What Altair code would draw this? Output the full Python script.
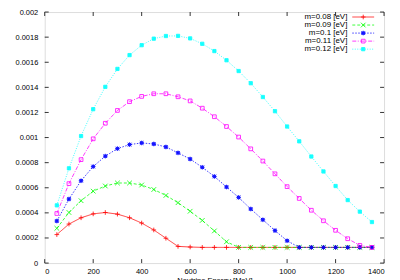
import altair as alt
import pandas as pd

energies = [50, 100, 150, 200, 250, 300, 350, 400, 450, 500, 550, 600, 650, 700,
            750, 800, 850, 900, 950, 1000, 1050, 1100, 1150, 1200, 1250, 1300, 1350]

series_names = ["m=0.08 [eV]", "m=0.09 [eV]", "m=0.1 [eV]", "m=0.11 [eV]", "m=0.12 [eV]"]

m008 = [0.000227, 0.000311, 0.000361, 0.000392, 0.000403, 0.000390, 0.000361, 0.000319,
        0.000264, 0.000198, 0.000133, 0.000128, 0.000125, 0.000125, 0.000125, 0.000125,
        0.000125, 0.000125, 0.000125, 0.000125, 0.000125, 0.000125, 0.000125, 0.000125,
        0.000125, 0.000125, 0.000125]
m009 = [0.000277, 0.000403, 0.000497, 0.000573, 0.000614, 0.000638, 0.000638, 0.000622,
        0.000586, 0.000539, 0.000481, 0.000413, 0.000340, 0.000256, 0.000170, 0.000125,
        0.000125, 0.000125, 0.000125, 0.000125, 0.000125, 0.000125, 0.000125, 0.000125,
        0.000125, 0.000125, 0.000125]
m010 = [0.000335, 0.000510, 0.000656, 0.000769, 0.000852, 0.000912, 0.000944, 0.000957,
        0.000949, 0.000925, 0.000878, 0.000829, 0.000763, 0.000690, 0.000606, 0.000523,
        0.000431, 0.000345, 0.000259, 0.000178, 0.000125, 0.000125, 0.000125, 0.000125,
        0.000125, 0.000125, 0.000125]
m011 = [0.000395, 0.000633, 0.000824, 0.000990, 0.001114, 0.001216, 0.001286, 0.001328,
        0.001349, 0.001349, 0.001325, 0.001292, 0.001234, 0.001166, 0.001088, 0.001004,
        0.000910, 0.000813, 0.000711, 0.000609, 0.000515, 0.000421, 0.000337, 0.000261,
        0.000194, 0.000141, 0.000125]
m012 = [0.000460, 0.000755, 0.001012, 0.001226, 0.001404, 0.001547, 0.001657, 0.001736,
        0.001788, 0.001809, 0.001810, 0.001790, 0.001747, 0.001689, 0.001616, 0.001530,
        0.001433, 0.001323, 0.001210, 0.001088, 0.000970, 0.000849, 0.000730, 0.000614,
        0.000502, 0.000410, 0.000327]

x_ticks = [0, 200, 400, 600, 800, 1000, 1200, 1400]
y_ticks = [0, 0.0002, 0.0004, 0.0006, 0.0008, 0.001, 0.0012, 0.0014, 0.0016, 0.0018, 0.002]

colors = ["#ff0000", "#00ff00", "#0000ff", "#ff00ff", "#00ffff"]
fills = ["#ff0000", "#00ff00", "#0000ff", "transparent", "#00ffff"]
dashes = [[1, 0], [3, 2], [1.5, 1.5], [4, 1.5, 1, 1.5], [1, 1.5]]
shapes = [
    "M-1,0H1M0,-1V1",
    "M-1,-1L1,1M-1,1L1,-1",
    "M-0.5,-0.5H0.5V0.5H-0.5ZM-1,0H1M0,-1V1M-0.8,-0.8L0.8,0.8M-0.8,0.8L0.8,-0.8",
    "M-0.8,-0.8H0.8V0.8H-0.8Z",
    "M-0.7,-0.7H0.7V0.7H-0.7Z",
]

rows = []
for name, vals in zip(series_names, [m008, m009, m010, m011, m012]):
    for e, v in zip(energies, vals):
        rows.append({"energy": e, "series": name, "value": v})
df = pd.DataFrame(rows)

FONT = "Liberation Sans"
W, H = 342, 253

xscale = alt.Scale(domain=[0, 1400], nice=False)
yscale = alt.Scale(domain=[0, 0.002], nice=False)
color_s = alt.Scale(domain=series_names, range=colors)
fill_s = alt.Scale(domain=series_names, range=fills)
dash_s = alt.Scale(domain=series_names, range=dashes)
shape_s = alt.Scale(domain=series_names, range=shapes)

axis_common = dict(grid=False, ticks=False, tickSize=0, domain=False, labelOverlap=False,
                   labelFont=FONT, titleFont=FONT, labelFontSize=7.5, titleFontSize=7.5,
                   titleFontWeight="normal", labelColor="black", titleColor="black")
x_axis = alt.Axis(values=x_ticks, title="Neutrino Energy [MeV]", format="d",
                  labelPadding=5, titlePadding=1, **axis_common)
y_axis = alt.Axis(values=y_ticks, title=None, format="~g", labelPadding=7, **axis_common)

def X(field):
    return alt.X(field, scale=xscale, axis=x_axis)

def Y(field):
    return alt.Y(field, scale=yscale, axis=y_axis)

base = alt.Chart(df)
lines = base.mark_line(strokeWidth=0.9, opacity=0.85).encode(
    x=X("energy:Q"), y=Y("value:Q"),
    color=alt.Color("series:N", scale=color_s, legend=None),
    strokeDash=alt.StrokeDash("series:N", scale=dash_s, legend=None),
    detail="series:N",
)
points = base.mark_point(filled=False, size=22, strokeWidth=0.9, opacity=0.9).encode(
    x=X("energy:Q"), y=Y("value:Q"),
    color=alt.Color("series:N", scale=color_s, legend=None),
    fill=alt.Fill("series:N", scale=fill_s, legend=None),
    shape=alt.Shape("series:N", scale=shape_s, legend=None),
)

# inward ticks on all four sides
xt = alt.Chart(pd.DataFrame({"energy": x_ticks}))
yt = alt.Chart(pd.DataFrame({"value": y_ticks}))
tick_style = dict(color="black", strokeWidth=0.8)
xt_bottom = xt.mark_rule(**tick_style).encode(x=X("energy:Q"), y=alt.value(H), y2=alt.value(H - 4))
xt_top = xt.mark_rule(**tick_style).encode(x=X("energy:Q"), y=alt.value(0), y2=alt.value(4))
yt_left = yt.mark_rule(**tick_style).encode(y=Y("value:Q"), x=alt.value(0), x2=alt.value(4))
yt_right = yt.mark_rule(**tick_style).encode(y=Y("value:Q"), x=alt.value(W), x2=alt.value(W - 4))

# gnuplot-style key: text on the left, line sample with marker on the right
leg_layers = []
for i, name in enumerate(series_names):
    ld = alt.Chart(pd.DataFrame({"series": [name]}))
    ypix = 5 + 8.1 * i
    leg_layers.append(ld.mark_text(align="right", baseline="middle", font=FONT, fontSize=8,
                                   color="black").encode(
        x=alt.value(305), y=alt.value(ypix), text="series:N"))
    leg_layers.append(ld.mark_rule(strokeWidth=0.9, opacity=0.85).encode(
        x=alt.value(310), x2=alt.value(332), y=alt.value(ypix),
        color=alt.Color("series:N", scale=color_s, legend=None),
        strokeDash=alt.StrokeDash("series:N", scale=dash_s, legend=None)))
    leg_layers.append(ld.mark_point(filled=False, size=22, strokeWidth=0.9, opacity=0.9).encode(
        x=alt.value(321), y=alt.value(ypix),
        color=alt.Color("series:N", scale=color_s, legend=None),
        fill=alt.Fill("series:N", scale=fill_s, legend=None),
        shape=alt.Shape("series:N", scale=shape_s, legend=None)))

chart = alt.layer(
    lines, points, xt_bottom, xt_top, yt_left, yt_right, *leg_layers
).properties(
    width=W, height=H,
    title=alt.TitleParams("Normal", font=FONT, fontSize=8, fontWeight="normal", color="black", offset=2),
    autosize=alt.AutoSizeParams(type="none"),
    padding={"left": 37, "top": 3, "right": 8, "bottom": 19},
).configure_view(
    stroke="black", strokeWidth=1
).configure(background="white")

chart.save("out.html", embed_options={"renderer": "svg", "actions": False})
